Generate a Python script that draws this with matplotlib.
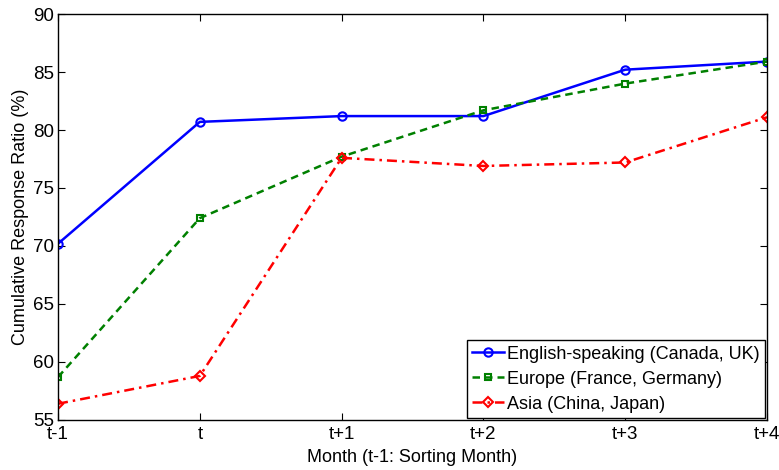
import numpy as np
import matplotlib.pyplot as plt

plt.rcParams['font.family'] = ['Liberation Sans', 'DejaVu Sans']

# Datos
months = ['t-1', 't', 't+1', 't+2', 't+3', 't+4']
english = [70.2, 80.7, 81.2, 81.2, 85.2, 85.9]
europe = [58.7, 72.4, 77.7, 81.7, 84.0, 85.9]
asia = [56.4, 58.8, 77.6, 76.9, 77.2, 81.1]

x = np.arange(len(months))

fig = plt.figure(figsize=(7.79, 4.70), dpi=100)
ax = fig.add_axes([0.0745, 0.1064, 0.9101, 0.8638])

ax.plot(x, english, 'b-', marker='o', markersize=6, markerfacecolor='none',
        markeredgewidth=1.5, linewidth=1.8, label='English-speaking (Canada, UK)')
ax.plot(x, europe, '--', color='#008000', marker='s', markersize=5, markerfacecolor='none',
        markeredgewidth=1.5, linewidth=1.8, dashes=(3, 2), label='Europe (France, Germany)')
ax.plot(x, asia, 'r-.', marker='D', markersize=5.5, markerfacecolor='none',
        markeredgewidth=1.5, linewidth=1.8, dashes=(4, 2, 1, 2), label='Asia (China, Japan)')

ax.set_xlim(0, len(months) - 1)
ax.set_ylim(55, 90)
ax.set_xticks(x)
ax.set_xticklabels(months)
ax.set_yticks(np.arange(55, 91, 5))
ax.tick_params(direction='in', top=True, right=True, length=5, labelsize=13.5)
ax.tick_params(axis='x', pad=4)
ax.tick_params(axis='y', pad=3)
for s in ax.spines.values():
    s.set_linewidth(1.0)

ax.set_xlabel('Month (t-1: Sorting Month)', fontsize=13, labelpad=5)
ax.set_ylabel('Cumulative Response Ratio (%)', fontsize=13, labelpad=3)

leg = ax.legend(loc='lower right', fontsize=13, borderaxespad=0.1, fancybox=False,
                edgecolor='black', framealpha=1, handlelength=1.75, handletextpad=0.2,
                borderpad=0.3, labelspacing=0.45)
leg.get_frame().set_linewidth(1.0)

fig.savefig('out.png', dpi=100)
